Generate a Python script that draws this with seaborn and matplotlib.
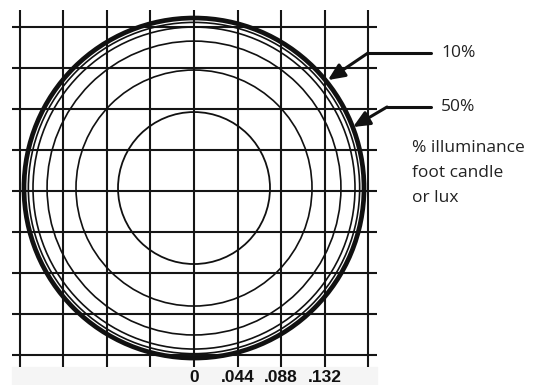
import numpy as np
import matplotlib
matplotlib.use("Agg")
import matplotlib.pyplot as plt
import seaborn as sns
from matplotlib.patches import Ellipse, Rectangle
from matplotlib.lines import Line2D

# ================================
# data
# ================================
grid_step = 0.044
grid_count = [-4, -3, -2, -1, 0, 1, 2, 3, 4]
tick_values = [0, 0.044, 0.088, 0.132]
tick_labels = ["0", ".044", ".088", ".132"]

# iso-illuminance ring radii (x axis units), outer to inner
ring_radius = [0.1716, 0.1672, 0.1625, 0.1483, 0.1191, 0.0767]
ring_width = [3.4, 1.2, 1.2, 1.2, 1.2, 1.3]

# arrow targets on the outer rings (data units)
arrow_labels = ["10%", "50%"]
arrow_tip_x = [0.1352, 0.1605]
arrow_tip_y = [0.1191, 0.0687]

note_lines = ["% illuminance", "foot candle", "or lux"]

# ================================
# figure
# ================================
sns.set_style("white")
W, H = 542, 385
fig = plt.figure(figsize=(W / 100, H / 100), dpi=100)

def fx(px):
    return px / W

def fy(py):
    return 1 - py / H

# light strip behind the tick labels
fig.patches.append(Rectangle((fx(12), fy(385)), fx(377) - fx(12), fy(367) - fy(385),
                             transform=fig.transFigure, color="#f5f5f5", zorder=-5))

ax = fig.add_axes([fx(12), fy(367), fx(377) - fx(12), fy(10) - fy(367)])
ax.set_zorder(2)
ax.patch.set_alpha(0)
xlim = (-0.1837, 0.1847)
ylim = (-0.1889, 0.1943)
ax.set_xlim(*xlim)
ax.set_ylim(*ylim)

# grid
for k in grid_count:
    ax.axvline(k * grid_step, color="#151515", lw=1.5, zorder=1)
    ax.axhline(k * grid_step, color="#151515", lw=1.5, zorder=1)

# keep rings round on screen even though the grid cells are not square
ax_w = (fx(377) - fx(12)) * W
ax_h = (fy(10) - fy(367)) * H
y_ratio = (ax_w / (xlim[1] - xlim[0])) / (ax_h / (ylim[1] - ylim[0]))
cy = 0.0032
for r, lw in zip(ring_radius, ring_width):
    ax.add_patch(Ellipse((0, cy), 2 * r, 2 * r * y_ratio, fill=False,
                         ec="#111111", lw=lw, zorder=2))

ax.set_xticks(tick_values)
ax.set_xticklabels(tick_labels, fontfamily="Liberation Sans", fontweight="bold",
                   fontsize=12.5, color="#111111")
ax.tick_params(axis="x", length=0, pad=2.5, labelbottom=True)
ax.set_yticks([])
sns.despine(ax=ax, left=True, bottom=True)

# arrows + labels
elbow_px = [(368, 53), (387, 107)]
for lab, tx, ty, (ex, ey) in zip(arrow_labels, arrow_tip_x, arrow_tip_y, elbow_px):
    fig.lines.append(Line2D([fx(ex), fx(431)], [fy(ey), fy(ey)], transform=fig.transFigure,
                            color="#111111", lw=2.2))
    ax.annotate("", xy=(tx, ty), xycoords="data",
                xytext=(fx(ex), fy(ey)), textcoords="figure fraction",
                arrowprops=dict(arrowstyle="-|>,head_length=1.0,head_width=0.45",
                                mutation_scale=10, color="#111111", lw=2.2,
                                shrinkA=0, shrinkB=0))
    fig.text(fx(441), fy(ey), lab, fontfamily="Open Sans", fontsize=12.5,
             color="#222222", va="center", ha="left")

for i, line in enumerate(note_lines):
    fig.text(fx(412), fy(148 + 25 * i), line, fontfamily="Open Sans", fontsize=12.5,
             color="#222222", va="center", ha="left")

fig.savefig("out.png", dpi=100)
